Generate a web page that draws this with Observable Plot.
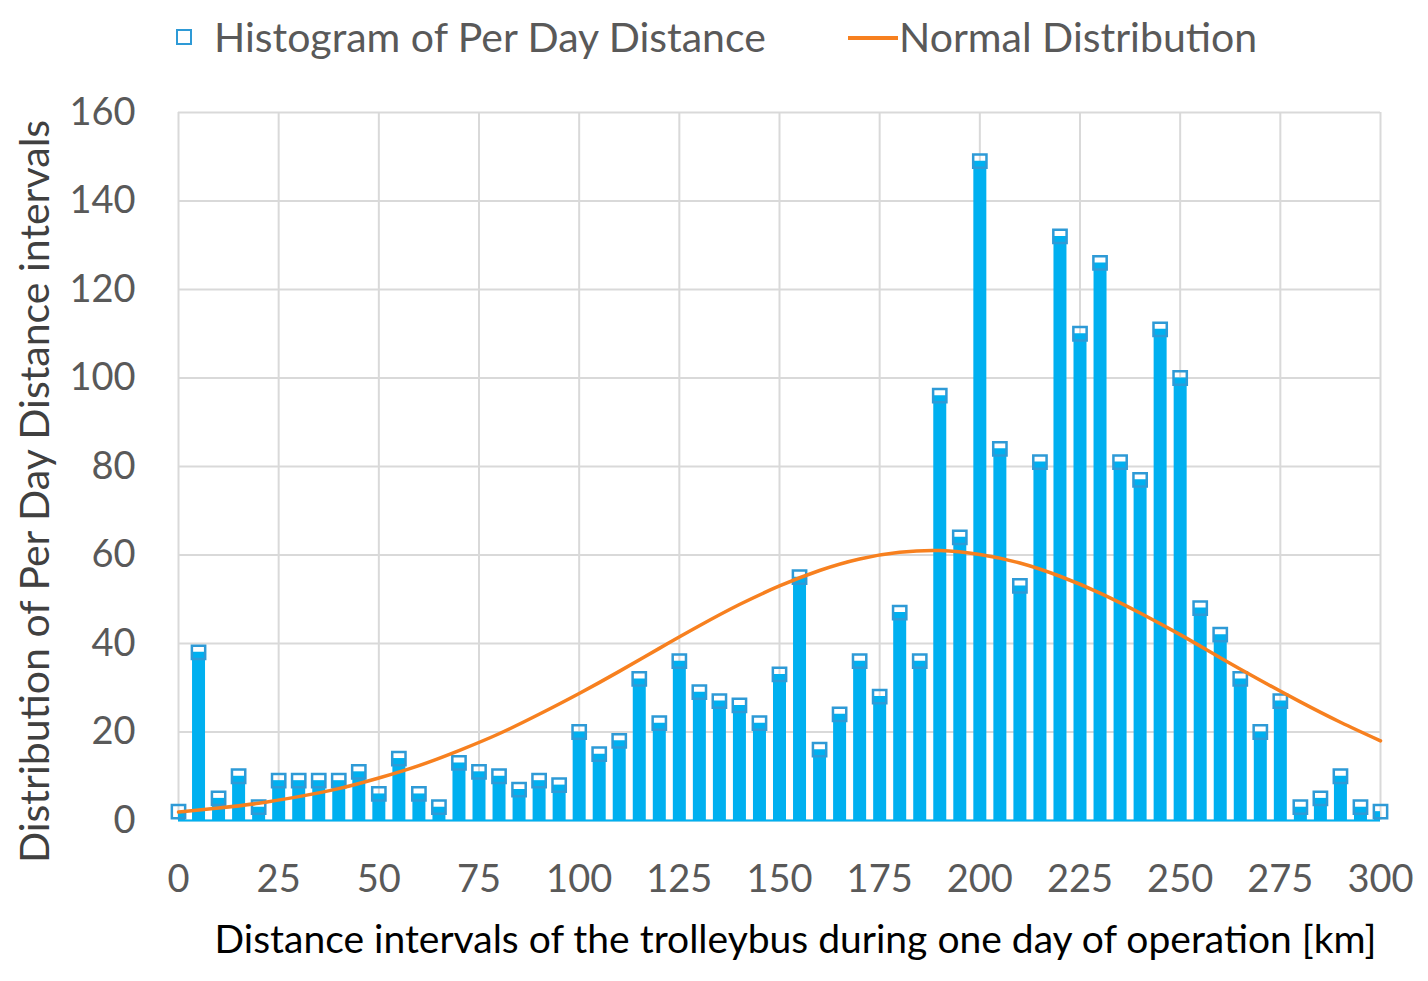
<!DOCTYPE html>
<html><head><meta charset="utf-8">
<script src="https://cdn.jsdelivr.net/npm/d3@7"></script>
<script src="https://cdn.jsdelivr.net/npm/@observablehq/plot@0.6"></script>
<style>
body{margin:0;background:#fff;font-family:Lato,sans-serif;}
#legend{position:relative;height:75px;width:1428px;}
#legend .sq{position:absolute;width:12px;height:12px;border:2.5px solid #2e9ad6;box-sizing:content-box;}
#legend .lt{position:absolute;top:36px;transform:translateY(-50%);font-size:41px;color:#595959;line-height:1;white-space:nowrap;}
#legend .ln{position:absolute;height:3.5px;width:50px;background:#f7801f;}
</style></head><body>
<div id="legend">
  <span class="sq" style="left:176px;top:29px"></span>
  <span class="lt" style="left:214px">Histogram of Per Day Distance</span>
  <span class="ln" style="left:848px;top:36px"></span>
  <span class="lt" style="left:899px">Normal Distribution</span>
</div>
<div id="chart"></div>
<script>
const binX = [0,5,10,15,20,25,30,35,40,45,50,55,60,65,70,75,80,85,90,95,100,105,110,115,120,125,130,135,140,145,150,155,160,165,170,175,180,185,190,195,200,205,210,215,220,225,230,235,240,245,250,255,260,265,270,275,280,285,290,295,300];
const binCount = [2,38,5,10,3,9,9,9,9,11,6,14,6,3,13,11,10,7,9,8,20,15,18,32,22,36,29,27,26,22,33,55,16,24,36,28,47,36,96,64,149,84,53,81,132,110,126,81,77,111,100,48,42,32,20,27,3,5,10,3,2];
const normX = [0,10,20,30,40,50,60,70,80,90,100,110,120,130,140,150,160,170,180,190,200,210,220,230,240,250,260,270,280,290,300];
const normY = [1.9,2.8,3.9,5.4,7.2,9.6,12.4,15.8,19.6,24.0,28.7,33.7,38.9,44.0,48.8,53.0,56.5,59.1,60.6,61.0,60.1,58.2,55.2,51.4,46.9,42.0,36.8,31.7,26.8,22.2,18.0];
const xTicks = [0,25,50,75,100,125,150,175,200,225,250,275,300];
const yTicks = [0,20,40,60,80,100,120,140,160];
const xTitle = "Distance intervals of the trolleybus during one day of operation [km]";
const yTitle = "Distribution of Per Day Distance intervals";

const bins = binX.map((x,i)=>({x, v: binCount[i]}));
const norm = normX.map((x,i)=>({x, y: normY[i]}));

const chart = Plot.plot({
  width:1428, height:906,
  marginTop:37, marginBottom:161, marginLeft:178, marginRight:48,
  style:{fontFamily:"Lato, sans-serif", fontSize:"38px", color:"#595959", background:"#fff", overflow:"visible"},
  x:{domain:[0,300]},
  y:{domain:[0,160]},
  marks:[
    Plot.gridX(xTicks,{stroke:"#d9d9d9", strokeOpacity:1, strokeWidth:2}),
    Plot.gridY(yTicks,{stroke:"#d9d9d9", strokeOpacity:1, strokeWidth:2}),
    Plot.ruleX(bins,{x:"x", y1:0, y2:"v", stroke:"#00b0f0", strokeWidth:13, clip:true}),
    Plot.ruleY([0],{stroke:"#00b0f0", strokeWidth:2}),
    Plot.dot(bins,{x:"x", y:"v", symbol:"square", r:7.5, stroke:"#2e9ad6", strokeWidth:2.5, fill:"none"}),
    Plot.line(norm,{x:"x", y:"y", curve:"natural", stroke:"#f7801f", strokeWidth:3.5}),
    Plot.axisX(xTicks,{tickSize:0, tickPadding:45, fontSize:38, fill:"#595959", label:null}),
    Plot.axisY(yTicks,{tickSize:0, tickPadding:43, fontSize:38, fill:"#595959", label:null}),
    Plot.text([xTitle],{frameAnchor:"bottom", dy:120, dx:16, fontSize:39, fill:"#000", lineAnchor:"middle", textAnchor:"middle"}),
    Plot.text([yTitle],{frameAnchor:"left", dx:-143, dy:25, rotate:-90, fontSize:41, fill:"#404040", lineAnchor:"middle", textAnchor:"middle"})
  ]
});
document.getElementById("chart").appendChild(chart);
</script>
</body></html>
